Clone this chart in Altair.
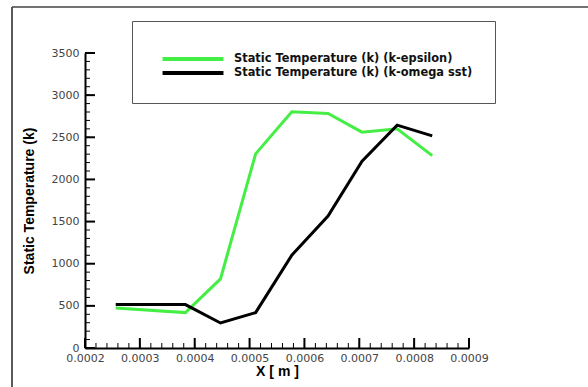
import altair as alt
import pandas as pd

x_vals = [0.000256, 0.000383, 0.000447, 0.000511, 0.000577, 0.000643, 0.000705, 0.000769, 0.000833]
t_keps = [476, 420, 820, 2303, 2802, 2783, 2561, 2600, 2283]
t_komega = [515, 515, 297, 420, 1102, 1566, 2216, 2644, 2517]
series_names = ["Static Temperature (k) (k-epsilon)", "Static Temperature (k) (k-omega sst)"]
x_ticks = [0.0002, 0.0003, 0.0004, 0.0005, 0.0006, 0.0007, 0.0008, 0.0009]
y_ticks = [0, 500, 1000, 1500, 2000, 2500, 3000, 3500]
x_minor = [0.0002 + i * 0.00002 for i in range(36)]
y_minor = [i * 100 for i in range(36)]

rows = []
for name, vals in zip(series_names, [t_keps, t_komega]):
    for i, (xv, tv) in enumerate(zip(x_vals, vals)):
        rows.append({"x": xv, "T": tv, "series": name, "order": i})
df = pd.DataFrame(rows)

W, H = 384, 295
xscale = alt.Scale(domain=[0.0002, 0.0009], nice=False, zero=False)
yscale = alt.Scale(domain=[0, 3500], nice=False)

lines = alt.Chart(df).mark_line(strokeWidth=3, clip=True).encode(
    x=alt.X("x:Q", scale=xscale,
            axis=alt.Axis(title="X [ m ]", values=x_ticks, format=".4f", grid=False,
                          ticks=False, domainWidth=2, labelOverlap=False, labelFlush=False,
                          labelPadding=4, titlePadding=1)),
    y=alt.Y("T:Q", scale=yscale,
            axis=alt.Axis(title="Static Temperature (k)", values=y_ticks, format="d", grid=False,
                          ticks=False, domainWidth=2, labelOverlap=False, labelFlush=False,
                          labelPadding=6, titlePadding=15)),
    color=alt.Color("series:N", sort=series_names,
                    scale=alt.Scale(domain=series_names, range=["#44ee44", "#000000"]),
                    legend=alt.Legend(title=" ", titleFontSize=6, titlePadding=4,
                                      orient="none", legendX=47, legendY=-32,
                                      symbolType="M-8,0H8", symbolSize=58, symbolStrokeWidth=4,
                                      symbolOffset=33,
                                      labelFont="DejaVu Sans", labelFontWeight="bold",
                                      labelFontSize=11.4, labelColor="#111", labelOffset=35,
                                      padding=22, strokeColor="#555", rowPadding=-3,
                                      labelLimit=400)),
    order="order:Q",
)

xminor_df = pd.DataFrame({"x": x_minor})
yminor_df = pd.DataFrame({"y": y_minor})
xmajor_df = pd.DataFrame({"x": x_ticks})
ymajor_df = pd.DataFrame({"y": y_ticks})
xminor = alt.Chart(xminor_df).mark_rule(color="#000", strokeWidth=1).encode(
    x=alt.X("x:Q", scale=xscale), y=alt.value(H), y2=alt.value(H - 5))
yminor = alt.Chart(yminor_df).mark_rule(color="#000", strokeWidth=1).encode(
    y=alt.Y("y:Q", scale=yscale), x=alt.value(0), x2=alt.value(5))
xmajor = alt.Chart(xmajor_df).mark_rule(color="#000", strokeWidth=2).encode(
    x=alt.X("x:Q", scale=xscale), y=alt.value(H), y2=alt.value(H - 10))
ymajor = alt.Chart(ymajor_df).mark_rule(color="#000", strokeWidth=2).encode(
    y=alt.Y("y:Q", scale=yscale), x=alt.value(0), x2=alt.value(10))

frame_v = alt.Chart(pd.DataFrame({"a": [0]})).mark_rule(color="#222", strokeWidth=1.5, clip=False).encode(
    x=alt.value(-73), y=alt.value(-46), y2=alt.value(H + 60))
frame_h = alt.Chart(pd.DataFrame({"a": [0]})).mark_rule(color="#444", strokeWidth=1.5, clip=False).encode(
    x=alt.value(-73), x2=alt.value(W + 130), y=alt.value(-46))

chart = alt.layer(xminor, yminor, xmajor, ymajor, lines, frame_v, frame_h).properties(
    width=W, height=H,
    autosize=alt.AutoSizeParams(type="none"),
    padding={"left": 85, "top": 53, "right": 119, "bottom": 39},
).configure_view(stroke=None).configure_axis(
    domainColor="#000",
    labelFont="DejaVu Sans", labelFontSize=11, labelColor="#444",
    titleFont="Liberation Sans", titleFontWeight="bold", titleFontSize=14, titleColor="#000",
).configure_axisY(labelAlign="right")

chart.save("out.html", embed_options={"renderer": "svg", "actions": False})
